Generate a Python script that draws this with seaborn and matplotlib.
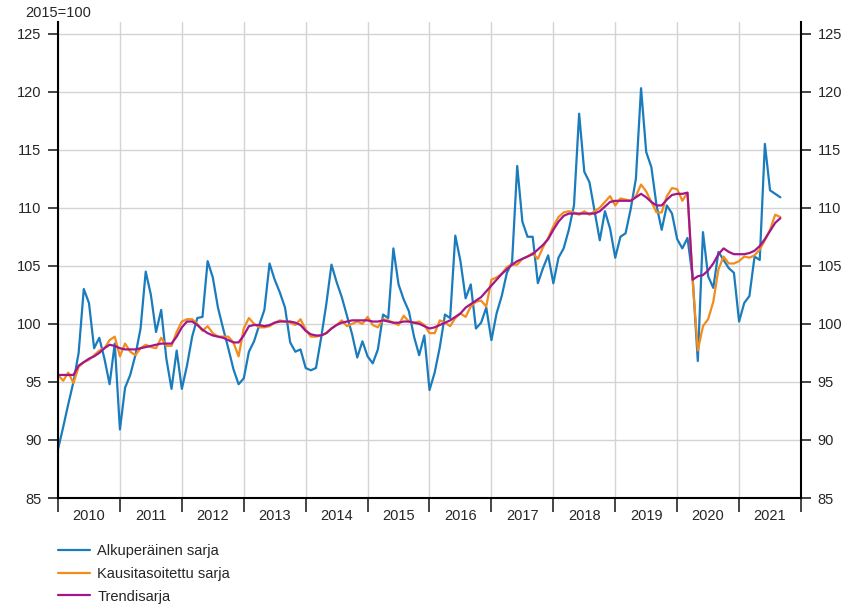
import numpy as np
import pandas as pd
import seaborn as sns
import matplotlib.pyplot as plt
from matplotlib.lines import Line2D

# monthly index 2015=100, Jan 2010 .. Sep 2021
years = [str(y) for y in range(2010, 2022)]

alkuperainen = [
    89.2, 91.1, 93.1, 95.0, 97.5, 103.0, 101.8, 97.9, 98.8, 97.0, 94.8, 98.3,
    90.9, 94.5, 95.6, 97.3, 99.6, 104.5, 102.5, 99.3, 101.2, 97.0, 94.4, 97.7,
    94.4, 96.4, 98.9, 100.5, 100.6, 105.4, 104.0, 101.4, 99.6, 97.9, 96.1, 94.8,
    95.3, 97.6, 98.5, 99.9, 101.2, 105.2, 103.8, 102.7, 101.4, 98.4, 97.6, 97.8,
    96.2, 96.0, 96.2, 98.8, 101.7, 105.1, 103.6, 102.3, 100.7, 99.1, 97.1, 98.5,
    97.2, 96.6, 97.8, 100.8, 100.5, 106.5, 103.4, 102.1, 101.1, 98.9, 97.3, 99.0,
    94.3, 95.8, 98.0, 100.8, 100.5, 107.6, 105.4, 102.2, 103.4, 99.6, 100.1, 101.4,
    98.6, 100.9, 102.4, 104.4, 105.3, 113.6, 108.8, 107.5, 107.5, 103.5, 104.8, 105.9,
    103.5, 105.7, 106.5, 108.1, 110.2, 118.1, 113.1, 112.2, 109.7, 107.2, 109.7, 108.2,
    105.7, 107.5, 107.8, 109.9, 112.5, 120.3, 114.8, 113.5, 110.2, 108.1, 110.2, 109.5,
    107.3, 106.5, 107.4, 104.0, 96.8, 107.9, 104.1, 103.1, 106.2, 105.5, 104.8, 104.4,
    100.2, 101.8, 102.4, 105.8, 105.5, 115.5, 111.5, 111.2, 110.9,
]

kausitasoitettu = [
    95.6, 95.1, 95.8, 94.9, 96.3, 96.7, 96.9, 97.3, 97.7, 97.9, 98.6, 98.9,
    97.2, 98.3, 97.6, 97.3, 97.9, 98.2, 98.0, 97.9, 98.8, 98.1, 98.1, 99.3,
    100.2, 100.4, 100.4, 100.0, 99.4, 99.8, 99.2, 98.9, 98.9, 98.9, 98.4, 97.2,
    99.6, 100.5, 100.0, 99.7, 99.7, 99.8, 100.1, 100.3, 100.2, 100.1, 99.9, 100.4,
    99.5, 98.9, 98.9, 99.0, 99.2, 99.6, 99.9, 100.3, 99.8, 100.0, 100.2, 100.0,
    100.6, 99.9, 99.7, 100.4, 100.3, 100.1, 99.9, 100.7, 100.2, 100.1, 100.2, 99.9,
    99.2, 99.2, 100.3, 100.1, 99.8, 100.5, 100.9, 100.6, 101.5, 101.9, 102.0, 101.5,
    103.8, 104.0, 104.3, 104.9, 105.1, 105.1, 105.6, 105.8, 106.1, 105.6, 106.6, 107.4,
    108.4, 109.2, 109.6, 109.7, 109.6, 109.4, 109.7, 109.4, 109.7, 110.0, 110.5, 111.0,
    110.2, 110.8, 110.7, 110.6, 111.0, 112.0, 111.4, 110.5, 109.6, 109.6, 111.0, 111.7,
    111.6, 110.6, 111.3, 103.7, 97.7, 99.8, 100.4, 101.9, 104.7, 105.8, 105.2, 105.2,
    105.4, 105.8, 105.7, 105.9, 106.4, 107.2, 108.1, 109.4, 109.2,
]

trendi = [
    95.6, 95.6, 95.6, 95.6, 96.4, 96.7, 97.0, 97.2, 97.5, 97.9, 98.2, 98.1,
    97.9, 97.8, 97.8, 97.8, 97.9, 98.0, 98.1, 98.2, 98.3, 98.3, 98.3, 98.9,
    99.7, 100.2, 100.2, 99.9, 99.5, 99.2, 99.0, 98.9, 98.8, 98.6, 98.4, 98.4,
    99.0, 99.8, 99.9, 99.9, 99.8, 99.9, 100.1, 100.2, 100.2, 100.2, 100.1, 99.9,
    99.4, 99.1, 99.0, 99.0, 99.2, 99.6, 99.9, 100.1, 100.2, 100.3, 100.3, 100.3,
    100.3, 100.2, 100.2, 100.3, 100.2, 100.1, 100.1, 100.2, 100.2, 100.1, 100.0, 99.8,
    99.6, 99.7, 99.9, 100.1, 100.3, 100.6, 100.9, 101.4, 101.7, 102.0, 102.3, 102.8,
    103.3, 103.8, 104.3, 104.7, 105.1, 105.4, 105.6, 105.8, 106.0, 106.4, 106.8, 107.3,
    108.1, 108.8, 109.3, 109.5, 109.5, 109.5, 109.5, 109.5, 109.5, 109.7, 110.1, 110.5,
    110.6, 110.6, 110.6, 110.6, 110.9, 111.2, 110.9, 110.5, 110.2, 110.2, 110.7, 111.1,
    111.2, 111.2, 111.3, 103.8, 104.1, 104.2, 104.6, 105.2, 106.0, 106.5, 106.2, 106.0,
    106.0, 106.0, 106.1, 106.3, 106.7, 107.3, 108.0, 108.7, 109.1,
]

labels = ["Alkuperäinen sarja", "Kausitasoitettu sarja", "Trendisarja"]
colors = ["#1a7cbd", "#f28c1c", "#a3168b"]

kk = np.arange(len(alkuperainen))
df = pd.DataFrame({"kk": kk,
                   labels[0]: alkuperainen,
                   labels[1]: kausitasoitettu,
                   labels[2]: trendi})
df = df.melt(id_vars="kk", var_name="sarja", value_name="arvo")

sns.set_style("white")
plt.rcParams["font.family"] = ["Liberation Sans", "DejaVu Sans"]

fig = plt.figure(figsize=(8.54, 6.05), dpi=100)
ax = fig.add_axes([58 / 854, 1 - 498 / 605, (801 - 58) / 854, (498 - 22) / 605])

sns.lineplot(data=df, x="kk", y="arvo", hue="sarja", hue_order=labels,
             palette=dict(zip(labels, colors)), linewidth=1.6, ax=ax, legend=False)

ax.set_xlim(0, 144)
ax.set_ylim(85, 126)
ax.set_xlabel("")
ax.set_ylabel("")

ax.set_yticks(range(85, 126, 5))
ax.set_xticks(range(0, 145, 12))
ax.set_xticklabels([])
ax.set_xticks(np.arange(6, 144, 12), minor=True)
ax.set_xticklabels(years, minor=True)

ax.tick_params(axis="x", which="major", length=10, width=1.2, direction="out", bottom=True)
ax.tick_params(axis="x", which="minor", length=0, pad=8, labelsize=10.5, bottom=True)
ax.tick_params(axis="y", left=True, right=True, labelleft=True, labelright=True,
               length=7, width=1.2, direction="out", labelsize=10.5, pad=5)

ax.grid(True, which="major", color="#d4d4d4", linewidth=1.0)
ax.set_axisbelow(True)
ax.spines["top"].set_visible(False)
for s in ["left", "right", "bottom"]:
    ax.spines[s].set_color("black")
    ax.spines[s].set_linewidth(1.5)

fig.text(25 / 854, 1 - 13 / 605, "2015=100", fontsize=10.5, va="center", ha="left")

handles = [Line2D([], [], color=c, linewidth=1.6) for c in colors]
fig.legend(handles, labels, loc="upper left", bbox_to_anchor=(58 / 854, 1 - 544 / 605),
           frameon=False, fontsize=10.5, handlelength=2.2, handletextpad=0.5,
           labelspacing=0.6, borderpad=0, borderaxespad=0)

fig.savefig("out.png", dpi=100)
